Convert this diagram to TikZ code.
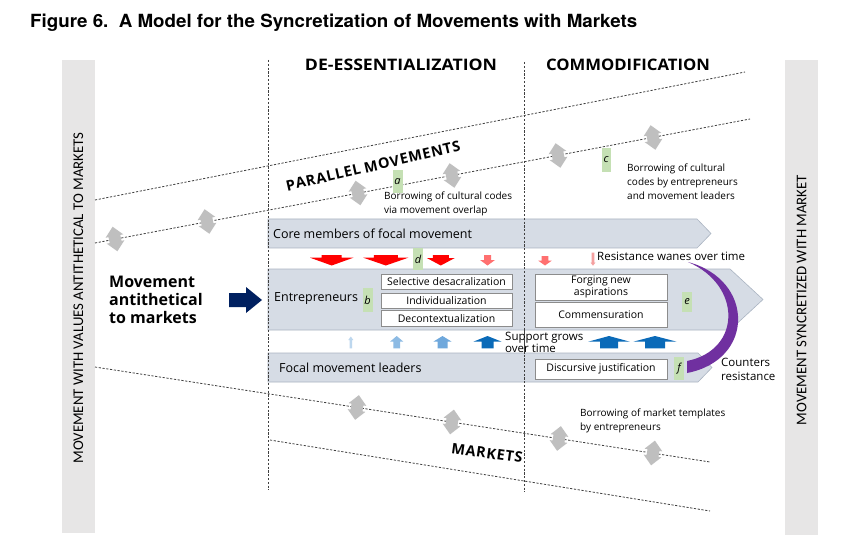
\documentclass[tikz,border=0pt]{standalone}
\usepackage{fontspec}
\setmainfont{Open Sans}
\newfontfamily\carl{Carlito}
\newfontfamily\heros{TeX Gyre Heros}
\newfontfamily\osnk[Kerning=Off]{Open Sans}
\usepackage{graphicx}
\definecolor{bandfill}{HTML}{D6DCE5}
\definecolor{bandline}{HTML}{AAB4C2}
\definecolor{sidebar}{HTML}{E7E6E6}
\definecolor{diagray}{HTML}{BFBFBF}
\definecolor{labgreen}{HTML}{C5E0B4}
\definecolor{redA}{HTML}{FF0000}
\definecolor{redB}{HTML}{FF7070}
\definecolor{redC}{HTML}{F4A0A0}
\definecolor{blueA}{HTML}{BDD7EE}
\definecolor{blueB}{HTML}{8DBBE4}
\definecolor{blueC}{HTML}{6FA8DC}
\definecolor{blueD}{HTML}{0A6AB8}
\definecolor{navy}{HTML}{002060}
\definecolor{purp}{HTML}{7030A0}
% vertical arrow: x, shaft half width, head half width, y shaft end, y head base, y tip, colour
\newcommand\vtarr[7]{\fill[#7] (#1-#2,#4) -- (#1+#2,#4) -- (#1+#2,#5) -- (#1+#3,#5) -- (#1,#6) -- (#1-#3,#5) -- (#1-#2,#5) -- cycle;}
\newcommand\lsp{\kern0.7pt}
\tikzset{
  dia/.pic={\fill[diagray] (0,-12.5) -- (9,-3) -- (6,-3) -- (6,3) -- (9,3) -- (0,12.5) -- (-9,3) -- (-6,3) -- (-6,-3) -- (-9,-3) -- cycle;}
}
\begin{document}
\begin{tikzpicture}[x=1pt,y=-1pt,
  dotl/.style={draw=black!75, line width=0.8pt, dash pattern=on 2.2pt off 1.6pt},
  band/.style={fill=bandfill, draw=bandline, line width=0.6pt},
  ibox/.style={draw=black!45, fill=white, line width=0.5pt, inner sep=0pt, minimum width=131pt, font=\fontsize{10.5}{12}\selectfont, align=center},
  glab/.style={fill=labgreen, inner sep=0pt, minimum width=10pt, font=\fontsize{11}{12}\selectfont\itshape},
  hdr/.style={font=\bfseries, inner sep=0pt},
  note/.style={font=\fontsize{10}{14}\selectfont, align=left, inner sep=0pt, anchor=west},
  bigl/.style={font=\fontsize{12.5}{15}\selectfont, inner sep=0pt, anchor=west},
  side/.style={font=\carl\fontsize{14.8}{16}\selectfont, inner sep=0pt, rotate=90},
]
\useasboundingbox (0,0) rectangle (855,559);
\fill[white] (0,0) rectangle (855,559);

% title
\node[anchor=base west, inner sep=0pt] (title) at (30,28) {\resizebox{607pt}{13.5pt}{\heros\bfseries Figure 6.\ \ A Model for the Syncretization of Movements with Markets}};

% side bars
\fill[sidebar] (62,60) rectangle (95,533);
\fill[sidebar] (785,60) rectangle (818,535);
\node[side] (lside) at (78.5,298) {MOVEMENT WITH VALUES ANTITHETICAL TO MARKETS};
\node[side] (rside) at (801.5,300) {MOVEMENT SYNCRETIZED WITH MARKET};

% headers
\node[hdr] (deess) at (401,65) {\resizebox{192pt}{11.5pt}{DE-ESSENTIALIZATION}};
\node[hdr] (commod) at (628,65) {\resizebox{164pt}{11.5pt}{COMMODIFICATION}};

% parallel movement lines
\draw[dotl] (95,200) -- (745,72);
\draw[dotl] (95,243) -- (750,119);
% market lines
\draw[dotl] (95,367) -- (710,462);
\draw[dotl] (270,440) -- (710,511);

% diamonds
\foreach \x/\y in {115/239, 207/221.5, 358/193, 452/175.5, 558/155.5, 653/137.5}
  \pic[rotate=11] at (\x,\y) {dia};
\foreach \x/\y in {357/407.5, 452/422, 559/438.5, 653/453}
  \pic[rotate=-8.8] at (\x,\y) {dia};

\node[font=\osnk\fontsize{14.5}{17}\selectfont\bfseries, rotate=13, inner sep=0pt] (parmov) at (373,166) {P\lsp A\lsp R\lsp A\lsp L\lsp L\lsp E\lsp L\ M\lsp O\lsp V\lsp E\lsp M\lsp E\lsp N\lsp T\lsp S};
\node[font=\osnk\fontsize{14.5}{17}\selectfont\bfseries, rotate=-8, inner sep=0pt] (mkts) at (487,453) {M\lsp A\lsp R\lsp K\lsp E\lsp T\lsp S};

% bands
\draw[band] (268,219) -- (697,219) -- (711,233.5) -- (697,248) -- (268,248) -- cycle;
\draw[band] (268,269) -- (730,269) -- (763,299.5) -- (730,330) -- (268,330) -- cycle;
\draw[band] (268,353) -- (698,353) -- (712,367.5) -- (698,382) -- (268,382) -- cycle;

% vertical dotted lines
\draw[dotl] (268,60) -- (268,490);
\draw[dotl] (524,62) -- (524,492);

\node[bigl] (core) at (273,233.5) {Core members of focal movement};
\node[bigl] (entr) at (274,299) {Entrepreneurs};
\node[bigl] (focal) at (279,367.5) {Focal movement leaders};

% inner boxes
\node[ibox, minimum height=15.5pt] (sel) at (446.5,281.5) {Selective desacralization};
\node[ibox, minimum height=15.5pt] (ind) at (446.5,300.5) {Individualization};
\node[ibox, minimum height=16pt] (dec) at (446.5,318.5) {Decontextualization};
\node[ibox, minimum width=132pt, minimum height=26pt] (forg) at (601,287) {Forging new\\aspirations};
\node[ibox, minimum width=132pt, minimum height=25pt] (comm) at (601,314.5) {Commensuration};
\node[ibox, minimum width=132pt, minimum height=20pt] (disc) at (601,369) {Discursive justification};

% green labels
\node[glab, minimum height=23pt] (la) at (397.5,181.5) {a};
\node[glab, minimum height=24pt] (lb) at (367.5,300) {b};
\node[glab, minimum width=9pt, minimum height=24pt] (lc) at (606,160) {c};
\node[glab, minimum height=22pt] (ld) at (418,259) {d};
\node[glab, minimum height=20pt] (le) at (687,302) {e};
\node[glab, minimum height=23pt] (lf) at (679,368.5) {f};

% notes
\node[note] (na) at (384,204) {Borrowing of cultural codes\\via movement overlap};
\node[note] (nc) at (627,181.5) {Borrowing of cultural\\codes by entrepreneurs\\and movement leaders};
\node[note] (nm) at (580,421) {Borrowing of market templates\\by entrepreneurs};

% red arrows
\vtarr{331.7}{10}{21.7}{255}{257.7}{265.5}{redA}
\vtarr{385.8}{12}{22.5}{255}{257.7}{265.5}{redA}
\vtarr{440.8}{8}{14}{255}{258}{265.5}{redA}
\vtarr{487.5}{3.5}{7.5}{255}{260}{265.5}{redB}
\vtarr{545}{3.3}{6.7}{256}{260.7}{265.5}{redB}
\vtarr{593}{1.3}{2.5}{252.7}{262.5}{265.7}{redC}
\node[font=\fontsize{11.5}{13}\selectfont, inner sep=0pt, anchor=west] (resist) at (597,256) {Resistance wanes over time};

% blue arrows
\vtarr{350.8}{1.3}{2.5}{348.3}{340}{336.5}{blueA}
\vtarr{396.7}{3.3}{6.7}{348.3}{341.7}{336}{blueB}
\vtarr{442.5}{5}{9.2}{348.3}{341.7}{336}{blueC}
\vtarr{487.5}{6}{14.2}{348.3}{341.7}{336}{blueD}
\vtarr{609}{9}{20.8}{348.3}{341.7}{336}{blueD}
\vtarr{655}{10}{21.7}{348.3}{341.7}{336}{blueD}
\node[font=\fontsize{11.5}{11}\selectfont, inner sep=0pt, anchor=west, align=left] (support) at (505,342) {Support grows\\over time};
\draw[dotl] (524,330) -- (524,353);

% left block
\node[font=\fontsize{16}{18}\selectfont\bfseries, inner sep=0pt, anchor=west, align=left] (antith) at (109,300) {Movement\\antithetical\\to markets};
\fill[navy] (229,293) -- (246,293) -- (246,287) -- (262,300) -- (246,313) -- (246,307) -- (229,307) -- cycle;

% purple crescent
\fill[purp] (688,262) .. controls (755,280) and (755,360) .. (687,373) -- (687,361) .. controls (742,350) and (742,285) .. (688,262) -- cycle;
\node[font=\fontsize{11.5}{14}\selectfont, inner sep=0pt, anchor=west, align=left] (counter) at (721,369) {Counters\\resistance};
\end{tikzpicture}
\end{document}
